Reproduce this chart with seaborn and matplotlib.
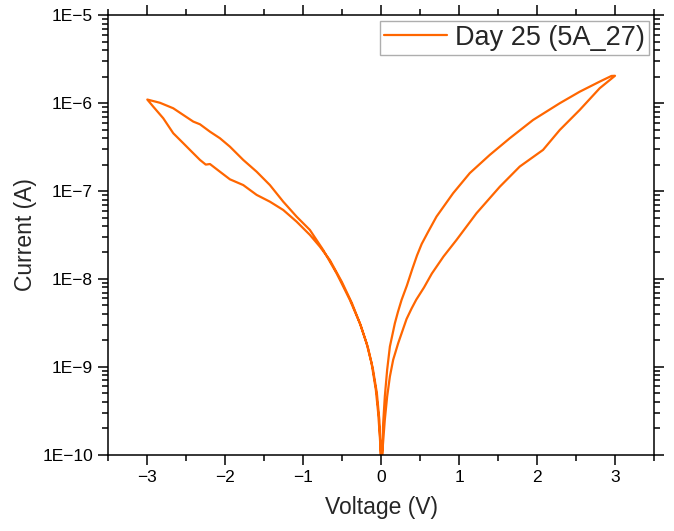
import numpy as np
import pandas as pd
import matplotlib
matplotlib.use('Agg')
import matplotlib.pyplot as plt
from matplotlib.ticker import FixedLocator, FuncFormatter, LogLocator, NullFormatter, MultipleLocator
import seaborn as sns

# %%
# I-V sweep (V in volts, I in amps)
# 0 -> +3 V (lower branch on the positive side)
v_pos_fwd = [0.0, 0.013, 0.047, 0.077, 0.112, 0.154, 0.218, 0.326, 0.39, 0.45, 0.55, 0.65, 0.8,
             0.967, 1.223, 1.522, 1.778, 2.077, 2.291, 2.547, 2.804, 3.0]
i_pos_fwd = [5e-11, 1.0e-10, 2.49e-10, 4.58e-10, 7.74e-10, 1.20e-9, 1.85e-9, 3.5e-9, 4.6e-9, 5.8e-9, 8.0e-9, 1.15e-8, 1.8e-8,
             2.78e-8, 5.59e-8, 1.12e-7, 1.90e-7, 2.94e-7, 4.95e-7, 8.37e-7, 1.48e-6, 2.05e-6]
# +3 V -> 0 (upper branch)
v_pos_rev = [2.954, 2.804, 2.547, 2.291, 1.949, 1.65, 1.394, 1.137, 0.923, 0.71, 0.6, 0.52, 0.46, 0.40,
             0.33, 0.262, 0.215, 0.176, 0.112, 0.077, 0.047, 0.026, 0.013, 0.0]
i_pos_rev = [2.04e-6, 1.76e-6, 1.35e-6, 9.98e-7, 6.44e-7, 3.99e-7, 2.58e-7, 1.60e-7, 9.44e-8, 5.12e-8, 3.4e-8, 2.5e-8, 1.85e-8, 1.3e-8,
             8.4e-9, 5.77e-9, 4.2e-9, 3.13e-9, 1.70e-9, 9.23e-10, 4.58e-10, 2.28e-10, 1.0e-10, 5e-11]
# 0 -> -3 V (lower branch on the negative side)
v_neg_fwd = [-0.004, -0.023, -0.055, -0.106, -0.171, -0.26, -0.376, -0.504, -0.658, -0.786, -0.914,
             -1.085, -1.256, -1.427, -1.597, -1.769, -1.94, -2.068, -2.196, -2.25, -2.324, -2.431,
             -2.538, -2.667, -2.795, -2.923, -3.0]
i_neg_fwd = [1.0e-10, 2.49e-10, 5.04e-10, 9.5e-10, 1.68e-9, 2.92e-9, 5.33e-9, 9.25e-9, 1.64e-8, 2.33e-8, 3.17e-8,
             4.49e-8, 6.09e-8, 7.57e-8, 9.04e-8, 1.17e-7, 1.36e-7, 1.66e-7, 2.03e-7, 2.0e-7, 2.26e-7, 2.81e-7,
             3.50e-7, 4.55e-7, 6.73e-7, 9.12e-7, 1.10e-6]
# -3 V -> 0 (upper branch)
v_neg_rev = [-2.837, -2.667, -2.538, -2.41, -2.324, -2.196, -2.068, -1.94, -1.769, -1.597, -1.427,
             -1.256, -1.085, -0.914, -0.744, -0.572, -0.529, -0.401, -0.273, -0.187, -0.123, -0.068,
             -0.038, -0.017, -0.004, 0.0]
i_neg_rev = [1.01e-6, 8.75e-7, 7.34e-7, 6.17e-7, 5.75e-7, 4.74e-7, 3.99e-7, 3.20e-7, 2.26e-7, 1.66e-7, 1.17e-7,
             7.57e-8, 5.12e-8, 3.61e-8, 2.14e-8, 1.16e-8, 9.75e-9, 5.77e-9, 3.13e-9, 1.85e-9, 1.10e-9, 5.46e-10,
             2.97e-10, 1.61e-10, 1.0e-10, 5e-11]

y_decades = [-10, -9, -8, -7, -6, -5]
x_ticks = [-3, -2, -1, 0, 1, 2, 3]

df = pd.DataFrame({
    'Voltage (V)': v_pos_fwd + v_pos_rev + v_neg_fwd + v_neg_rev,
    'Current (A)': i_pos_fwd + i_pos_rev + i_neg_fwd + i_neg_rev,
})

# %%
sns.set_style('ticks')
plt.rcParams['font.family'] = ['Liberation Sans', 'DejaVu Sans']
plt.rcParams['axes.unicode_minus'] = True

fig = plt.figure(figsize=(6.74, 5.31), dpi=100)
ax = fig.add_axes([0.1607, 0.1437, 0.8096, 0.8275])

sns.lineplot(data=df, x='Voltage (V)', y='Current (A)', sort=False, estimator=None,
             color='#FF6600', linewidth=1.6, label='Day 25 (5A_27)', ax=ax)

ax.set_yscale('log')
ax.set_xlim(-3.5, 3.5)
ax.set_ylim(1e-10, 1e-5)

ax.xaxis.set_major_locator(FixedLocator(x_ticks))
ax.xaxis.set_minor_locator(MultipleLocator(0.5))
ax.xaxis.set_major_formatter(FuncFormatter(lambda v, p: f'{v:.0f}'.replace('-', '\u2212')))
ax.yaxis.set_major_locator(FixedLocator([10.0 ** d for d in y_decades]))
ax.yaxis.set_minor_locator(LogLocator(base=10, subs=np.arange(2, 10)))
ax.yaxis.set_minor_formatter(NullFormatter())
ax.yaxis.set_major_formatter(FuncFormatter(lambda v, p: f'1E\u2212{-int(round(np.log10(v)))}'))

ax.tick_params(which='both', direction='out', top=True, right=True, width=1.1, colors='black')
ax.tick_params(which='major', length=7, labelsize=12.5, pad=4)
ax.tick_params(which='minor', length=4)
for s in ax.spines.values():
    s.set_linewidth(1.1)
    s.set_color('black')

ax.set_xlabel('Voltage (V)', fontsize=16.5, labelpad=8)
ax.set_ylabel('Current (A)', fontsize=16.5, labelpad=4)

leg = ax.legend(loc='upper right', fontsize=19.5, frameon=True, fancybox=False,
                borderaxespad=0.2, borderpad=0.15, handlelength=2.3, handletextpad=0.3)
leg.get_frame().set_edgecolor('#9a9a9a')
leg.get_frame().set_linewidth(1.0)

fig.savefig('out.png', dpi=100)
